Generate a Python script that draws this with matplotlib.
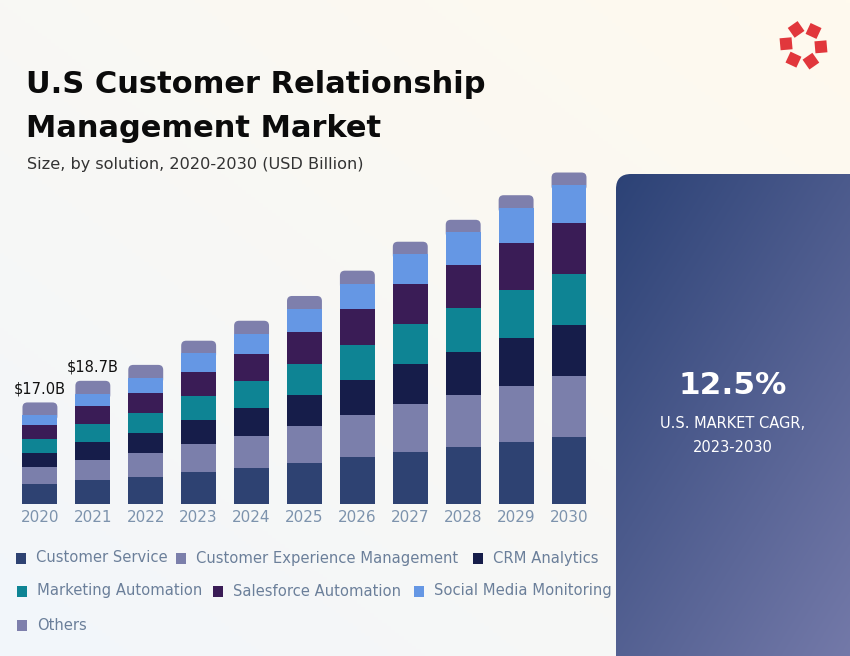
import numpy as np
import matplotlib
matplotlib.use("Agg")
import matplotlib.pyplot as plt
from matplotlib.patches import FancyBboxPatch, Rectangle, Polygon
from matplotlib.colors import to_rgb

# values (USD billion)
years = ['2020', '2021', '2022', '2023', '2024', '2025', '2026', '2027', '2028', '2029', '2030']
customer_service = [3.20, 3.92, 4.41, 5.25, 5.92, 6.77, 7.78, 8.72, 9.53, 10.37, 11.21]
customer_experience = [2.86, 3.48, 4.04, 4.76, 5.49, 6.28, 7.07, 8.03, 8.70, 9.49, 10.22]
crm_analytics = [2.36, 2.98, 3.37, 4.04, 4.61, 5.22, 5.94, 6.73, 7.35, 8.01, 8.58]
marketing_automation = [2.36, 2.98, 3.48, 4.09, 4.59, 5.22, 5.89, 6.73, 7.35, 8.03, 8.58]
salesforce_automation = [2.36, 2.98, 3.37, 4.04, 4.54, 5.33, 6.01, 6.73, 7.29, 7.96, 8.63]
social_media = [1.68, 2.07, 2.42, 3.10, 3.37, 3.87, 4.26, 5.00, 5.44, 5.89, 6.35]
others = [2.19, 2.24, 2.24, 2.12, 2.24, 2.24, 2.24, 2.12, 2.09, 2.14, 2.14]

total_labels = ['$17.0B', '$18.7B']
series_names = ['Customer Service', 'Customer Experience Management', 'CRM Analytics',
                'Marketing Automation', 'Salesforce Automation', 'Social Media Monitoring', 'Others']
colors = ['#2e4272', '#7b7fab', '#161d4a', '#0e8494', '#3a1c56', '#6597e4', '#7e7fac']

W, H = 850, 656
FONT = 'DejaVu Sans'
plt.rcParams['font.family'] = [FONT]

fig = plt.figure(figsize=(W / 100, H / 100), dpi=100)


def fx(px):
    return px / W


def fy(py):
    return 1 - py / H


# background gradient + decorations in pixel coords
bg = fig.add_axes([0, 0, 1, 1], zorder=-10)
bg.set_xlim(0, W)
bg.set_ylim(H, 0)
bg.axis('off')
yy, xx = np.mgrid[0:1:200j, 0:1:200j]
t = ((xx + (1 - yy)) / 2)[..., None]
c_low = np.array(to_rgb('#f2f6fb'))
c_high = np.array(to_rgb('#fffaee'))
bg.imshow(c_low * (1 - t) + c_high * t, extent=(0, W, H, 0), aspect='auto', zorder=0)

# logo
cx, cy, rad, side = 803.5, 45.3, 17.5, 12.0
for k in range(6):
    a = np.deg2rad(115 - 60 * k)
    px, py = cx + rad * np.cos(a), cy - rad * np.sin(a)
    rot = -(a + np.deg2rad(10))
    corners = []
    for dx, dy in [(-1, -1), (1, -1), (1, 1), (-1, 1)]:
        hx, hy = dx * side / 2, dy * side / 2
        corners.append((px + hx * np.cos(rot) - hy * np.sin(rot),
                        py + hx * np.sin(rot) + hy * np.cos(rot)))
    bg.add_patch(Polygon(corners, closed=True, fc='#e1373c', ec='none', zorder=2))

# right panel
pa = fig.add_axes([fx(616), fy(700), (880 - 616) / W, (700 - 174) / H], zorder=-5)
pa.set_xlim(0, 264)
pa.set_ylim(526, 0)
pa.axis('off')
gy, gx = np.mgrid[0:1:200j, 0:1:200j]
gt = (0.45 * gx + 0.55 * gy)[..., None]
p0 = np.array(to_rgb('#2c4276'))
p1 = np.array(to_rgb('#7b7fae'))
im = pa.imshow(p0 * (1 - gt) + p1 * gt, extent=(0, 264, 526, 0), aspect='auto')
clip = FancyBboxPatch((0, 0), 264, 526, boxstyle='round,pad=0,rounding_size=15',
                      fc='none', ec='none', transform=pa.transData)
pa.add_patch(clip)
im.set_clip_path(clip)

fig.text(fx(733), fy(385), '12.5%', color='white', fontsize=22.5, fontweight='heavy',
         ha='center', va='center')
fig.text(fx(733), fy(423), 'U.S. MARKET CAGR,', color='white', fontsize=10.5,
         ha='center', va='center')
fig.text(fx(733), fy(447), '2023-2030', color='white', fontsize=10.5,
         ha='center', va='center')

# titles
fig.text(fx(26), fy(93), 'U.S Customer Relationship', fontsize=22, fontweight='bold',
         color='#0b0b0b', ha='left', va='baseline')
fig.text(fx(26), fy(137), 'Management Market', fontsize=22, fontweight='bold',
         color='#0b0b0b', ha='left', va='baseline')
fig.text(fx(27), fy(169), 'Size, by solution, 2020-2030 (USD Billion)', fontsize=11.6,
         color='#333333', ha='left', va='baseline')

# chart
scale = 17.0 / 101  # billion per px
ax = fig.add_axes([fx(14), fy(503.5), (596 - 14) / W, (503.5 - 160) / H])
ax.patch.set_alpha(0)
ax.set_xlim(-0.49, 10.51)
ax.set_ylim(0, 343.5 * scale)
x = np.arange(len(years))
width = 0.66

stack = [customer_service, customer_experience, crm_analytics, marketing_automation,
         salesforce_automation, social_media]
bottom = np.zeros(len(years))
for vals, col in zip(stack, colors[:6]):
    ax.bar(x, vals, width, bottom=bottom, color=col, zorder=3, linewidth=0)
    bottom = bottom + np.array(vals)

r = 5 / 52.9
asp = scale / (1 / 52.9)
for i in range(len(years)):
    ax.add_patch(FancyBboxPatch((x[i] - width / 2, bottom[i] - 1.0), width, others[i] + 1.0,
                                boxstyle=f'round,pad=0,rounding_size={r}', mutation_aspect=asp,
                                fc=colors[6], ec='none', zorder=2))
totals = bottom + np.array(others)
for i, lab in enumerate(total_labels):
    ax.text(x[i], totals[i] + 6 * scale, lab, ha='center', va='bottom', fontsize=10.5,
            color='#111111')

ax.set_xticks(x, years)
ax.tick_params(axis='x', length=0, pad=4.5, labelsize=11, labelcolor='#7d93ad')
ax.set_yticks([])
for s in ax.spines.values():
    s.set_visible(False)

# legend (squares + labels)
legend_pos = [(16, 558), (176, 558), (473, 558), (17, 591), (213, 591), (414, 591), (17, 625)]
for (lx, ly), name, col in zip(legend_pos, series_names, colors):
    bg.add_patch(Rectangle((lx, ly - 5), 10.5, 10.5, fc=col, ec='none', zorder=3))
    fig.text(fx(lx + 20), fy(ly), name, fontsize=10.6, color='#6b7f9a', ha='left', va='center')

fig.savefig('out.png', dpi=100)
